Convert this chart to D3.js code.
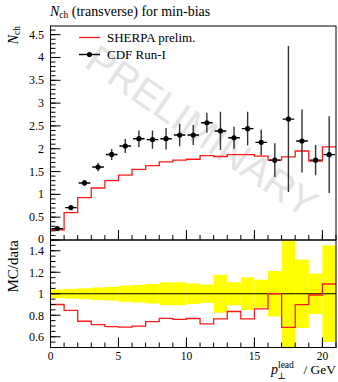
<!DOCTYPE html>
<html>
<head>
<meta charset="utf-8">
<script src="https://cdn.jsdelivr.net/npm/d3@7"></script>
<style>
  body { margin: 0; background: #fff; }
  text { font-family: "Liberation Serif", "DejaVu Serif", serif; }
</style>
</head>
<body>
<svg id="chart" width="338" height="382"></svg>
<script>
// bin edges (GeV), one bin per GeV
let binEdges = [0, 1, 2, 3, 4, 5, 6, 7, 8, 9, 10, 11, 12, 13, 14, 15, 16, 17, 18, 19, 20, 21];
// CDF Run-I data and its error
let cdfValues = [0.25, 0.71, 1.25, 1.60, 1.875, 2.06, 2.22, 2.20, 2.22, 2.30, 2.30,
                 2.57, 2.39, 2.24, 2.44, 2.14, 1.75, 2.65, 2.17, 1.75, 1.87];
let cdfErrors = [0.01, 0.032, 0.063, 0.093, 0.12, 0.155, 0.18, 0.2, 0.235, 0.245, 0.22,
                 0.22, 0.42, 0.24, 0.37, 0.28, 0.37, 1.6, 0.69, 0.33, 0.84];
// SHERPA prediction
let sherpaValues = [0.225, 0.60, 0.93, 1.14, 1.30, 1.42, 1.55, 1.63, 1.71, 1.75, 1.77,
                    1.85, 1.83, 1.87, 1.87, 1.84, 1.75, 1.82, 1.95, 1.73, 2.04];
let xTickLabels = [0, 5, 10, 15, 20];
let yTickLabels = [0, 0.5, 1, 1.5, 2, 2.5, 3, 3.5, 4, 4.5];
let ratioTickLabels = [0.6, 0.8, 1, 1.2, 1.4];

let svg = d3.select("#chart");

let x = d3.scaleLinear().domain([0, 21]).range([50.5, 336]);
let y = d3.scaleLinear().domain([0, 4.69]).range([240, 26]);
let yr = d3.scaleLinear().domain([0.5, 1.5]).range([347.5, 240]);

let bins = cdfValues.map((v, i) => ({
    lo: binEdges[i],
    hi: binEdges[i + 1],
    data: v,
    err: cdfErrors[i],
    mc: sherpaValues[i],
    ratio: sherpaValues[i] / v
}));

svg.append("clipPath").attr("id", "clipMain")
    .append("rect").attr("x", x(0)).attr("y", y(4.69)).attr("width", x(21) - x(0)).attr("height", y(0) - y(4.69));
svg.append("clipPath").attr("id", "clipRatio")
    .append("rect").attr("x", x(0)).attr("y", yr(1.5)).attr("width", x(21) - x(0)).attr("height", yr(0.5) - yr(1.5));

//watermark
svg.append("text")
    .attr("transform", "translate(200,134) rotate(34.6)")
    .attr("text-anchor", "middle")
    .attr("dominant-baseline", "middle")
    .style("font-family", "'Liberation Sans', sans-serif")
    .attr("font-size", "40px")
    .attr("fill", "#e3e3e3")
    .text("PRELIMINARY");

//ratio band
let gr = svg.append("g").attr("clip-path", "url(#clipRatio)");
gr.selectAll("rect.band")
    .data(bins)
    .join("rect")
    .attr("class", "band")
    .attr("x", d => x(d.lo))
    .attr("width", d => x(d.hi) - x(d.lo))
    .attr("y", d => yr(1 + d.err / d.data))
    .attr("height", d => yr(1 - d.err / d.data) - yr(1 + d.err / d.data))
    .attr("fill", "#ffff00");
gr.append("line")
    .attr("x1", x(0)).attr("x2", x(21))
    .attr("y1", yr(1)).attr("y2", yr(1))
    .attr("stroke", "black").attr("stroke-width", 1);

let stepPts = bins.map(d => [d.lo, d.ratio]).concat([[21, bins[bins.length - 1].ratio]]);
gr.append("path")
    .attr("d", d3.line().x(d => x(d[0])).y(d => yr(d[1])).curve(d3.curveStepAfter)(stepPts))
    .attr("fill", "none")
    .attr("stroke", "#ff1a1a")
    .attr("stroke-width", 1.3);

//main panel
let gm = svg.append("g").attr("clip-path", "url(#clipMain)");
let mcPts = bins.map(d => [d.lo, d.mc]).concat([[21, bins[bins.length - 1].mc]]);
gm.append("path")
    .attr("d", d3.line().x(d => x(d[0])).y(d => y(d[1])).curve(d3.curveStepAfter)(mcPts))
    .attr("fill", "none")
    .attr("stroke", "#ff1a1a")
    .attr("stroke-width", 1.3);

gm.selectAll("line.ey")
    .data(bins)
    .join("line")
    .attr("class", "ey")
    .attr("x1", d => x((d.lo + d.hi) / 2)).attr("x2", d => x((d.lo + d.hi) / 2))
    .attr("y1", d => y(d.data - d.err)).attr("y2", d => y(d.data + d.err))
    .attr("stroke", "#333").attr("stroke-width", 1.4);
gm.selectAll("line.ex")
    .data(bins)
    .join("line")
    .attr("class", "ex")
    .attr("x1", d => x(d.lo) + 1).attr("x2", d => x(d.hi) - 1)
    .attr("y1", d => y(d.data)).attr("y2", d => y(d.data))
    .attr("stroke", "black").attr("stroke-width", 1.4);
gm.selectAll("circle")
    .data(bins)
    .join("circle")
    .attr("cx", d => x((d.lo + d.hi) / 2))
    .attr("cy", d => y(d.data))
    .attr("r", 2.6)
    .attr("fill", "black");

//frames
svg.append("rect")
    .attr("x", x(0)).attr("y", y(4.69)).attr("width", x(21) - x(0)).attr("height", y(0) - y(4.69))
    .attr("fill", "none").attr("stroke", "black");
svg.append("rect")
    .attr("x", x(0)).attr("y", yr(1.5)).attr("width", x(21) - x(0)).attr("height", yr(0.5) - yr(1.5))
    .attr("fill", "none").attr("stroke", "black");

//ticks
function ticks(values, len, pos, vertical) {
    svg.append("g").selectAll("line")
        .data(values)
        .join("line")
        .attr("x1", d => vertical ? x(0) : x(d))
        .attr("x2", d => vertical ? x(0) + len : x(d))
        .attr("y1", d => vertical ? pos(d) : pos)
        .attr("y2", d => vertical ? pos(d) : pos - len)
        .attr("stroke", "black").attr("stroke-width", 1);
}
let minorX = d3.range(0, 22, 1);
ticks(minorX, 5, y(0), false);
ticks(xTickLabels, 10, y(0), false);
ticks(minorX, 5, yr(0.5), false);
ticks(xTickLabels, 10, yr(0.5), false);
ticks(d3.range(0, 4.65, 0.1), 5, y, true);
ticks(yTickLabels, 10, y, true);
ticks(d3.range(0.55, 1.5, 0.05), 5, yr, true);
ticks(ratioTickLabels, 10, yr, true);

svg.append("g").selectAll("text")
    .data(yTickLabels)
    .join("text")
    .attr("x", 44).attr("y", d => y(d) + (d === 0 ? 2.5 : 4))
    .attr("text-anchor", "end").attr("font-size", "12px")
    .text(d => d);
svg.append("g").selectAll("text")
    .data(ratioTickLabels)
    .join("text")
    .attr("x", 44).attr("y", d => yr(d) + 4.5)
    .attr("text-anchor", "end").attr("font-size", "12px")
    .text(d => d);
svg.append("g").selectAll("text")
    .data(xTickLabels)
    .join("text")
    .attr("x", d => x(d)).attr("y", 360)
    .attr("text-anchor", "middle").attr("font-size", "11.5px")
    .text(d => d);

//title and labels
let title = svg.append("text").attr("x", 50).attr("y", 16).attr("font-size", "14px");
title.append("tspan").attr("font-style", "italic").text("N");
title.append("tspan").attr("font-size", "9.5px").attr("dy", 2).text("ch");
title.append("tspan").attr("dy", -2).text(" (transverse) for min-bias");

let yl = svg.append("text")
    .attr("transform", `translate(18,${y(4.69)}) rotate(-90)`)
    .attr("text-anchor", "end").attr("font-size", "14px");
yl.append("tspan").attr("font-style", "italic").text("N");
yl.append("tspan").attr("font-size", "9.5px").attr("dy", 2).text("ch");

svg.append("text")
    .attr("transform", `translate(18,${yr(1.5)}) rotate(-90)`)
    .attr("text-anchor", "end").attr("font-size", "15px")
    .text("MC/data");

let xl = svg.append("g");
xl.append("text").attr("x", 271).attr("y", 374).attr("font-size", "14px").attr("font-style", "italic").text("p");
xl.append("text").attr("x", 278).attr("y", 368).attr("font-size", "9.5px").text("lead");
xl.append("text").attr("x", 277).attr("y", 379).attr("font-size", "9.5px").text("⊥");
xl.append("text").attr("x", 336).attr("y", 374).attr("text-anchor", "end").attr("font-size", "13.5px").text("/ GeV");

//legend
let lg = svg.append("g");
lg.append("line").attr("x1", 79).attr("x2", 100).attr("y1", 37.5).attr("y2", 37.5)
    .attr("stroke", "#ff1a1a").attr("stroke-width", 1.3);
lg.append("text").attr("x", 107).attr("y", 42).attr("font-size", "13px").text("SHERPA prelim.");
lg.append("line").attr("x1", 79).attr("x2", 100).attr("y1", 54.5).attr("y2", 54.5)
    .attr("stroke", "black").attr("stroke-width", 1.4);
lg.append("circle").attr("cx", 89.5).attr("cy", 54.5).attr("r", 2.6).attr("fill", "black");
lg.append("text").attr("x", 107).attr("y", 59).attr("font-size", "13px").text("CDF Run-I");
</script>
</body>
</html>
